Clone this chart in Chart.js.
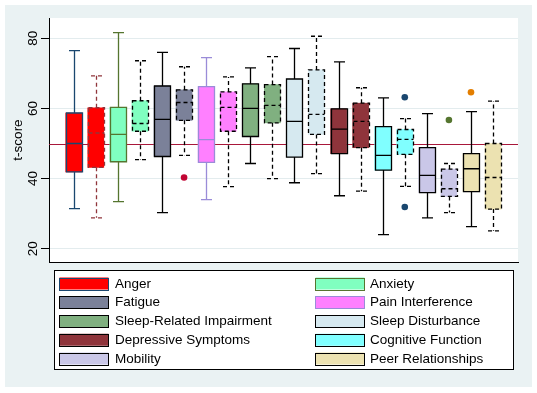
<!DOCTYPE html>
<html>
<head>
<meta charset="utf-8">
<script src="https://cdn.jsdelivr.net/npm/chart.js@4.4.1/dist/chart.umd.min.js"></script>
<style>
  html, body { margin: 0; padding: 0; background: #fff; }
  canvas { display: block; }
</style>
</head>
<body>
<canvas id="chart" width="537" height="393"></canvas>
<script>
// measures (each one has a solid box and a dashed box)
const measures = ['Anger', 'Anxiety', 'Fatigue', 'Pain Interference', 'Sleep-Related Impairment',
  'Sleep Disturbance', 'Depressive Symptoms', 'Cognitive Function', 'Mobility', 'Peer Relationships'];

// box statistics, 20 boxes: solid, dashed, solid, dashed ...
const whiskerHigh = [76.5, 69.3, 81.6, 73.6, 76.0, 71.9, 74.5, 69.0, 71.6, 74.8, 77.1, 80.6, 73.3, 65.9, 63.0, 57.1, 58.5, 44.3, 59.1, 62.1];
const upperQ     = [58.7, 60.2, 60.3, 62.2, 66.4, 65.3, 66.2, 64.7, 67.0, 66.8, 68.4, 71.0, 59.9, 61.5, 54.8, 54.0, 48.8, 42.7, 47.1, 50.0];
const medians    = [50.0, 53.0, 52.6, 55.7, 56.9, 61.7, 51.1, 60.3, 60.0, 60.9, 56.3, 58.3, 54.1, 56.3, 46.6, 51.2, 40.9, 37.1, 42.8, 40.3];
const lowerQ     = [41.9, 43.2, 44.8, 53.5, 46.3, 56.6, 44.6, 53.5, 52.0, 55.9, 46.1, 52.6, 47.1, 48.8, 42.4, 46.9, 36.0, 34.9, 36.3, 31.3];
const whiskerLow = [31.4, 28.8, 33.4, 45.4, 30.3, 46.6, 34.0, 37.7, 44.3, 40.0, 38.8, 41.4, 35.1, 36.4, 24.0, 37.8, 28.8, 30.3, 26.3, 25.1];

// outside values
const outlierBox   = [5, 15, 15, 17, 18];
const outlierValue = [40.3, 63.2, 31.9, 56.7, 64.6];

const yTicks = [20, 40, 60, 80];
const refValue = 50;

// styles
const fillColors = ['#ff0000', '#80ffc0', '#7b8199', '#ff80ff', '#80b080',
  '#d6e9f0', '#8f343b', '#80ffff', '#cac7e8', '#ece2b1'];
const lineColors = ['#1a476f', '#90353b', '#55752f', '#000', '#000', '#000', '#9a8cd8', '#000', '#000', '#000',
  '#000', '#000', '#000', '#000', '#000', '#000', '#000', '#000', '#000', '#000'];
const outlierColors = ['#c10534', '#1a476f', '#1a476f', '#55752f', '#e37e00'];
const FONT = '13.5px "Liberation Sans", Arial, sans-serif';

const boxIdx = whiskerHigh.map((v, i) => i);

const boxPlot = {
  id: 'boxPlot',
  beforeDraw(chart) {
    const { ctx, chartArea: a } = chart;
    ctx.save();
    ctx.fillStyle = '#fff';
    ctx.fillRect(0, 0, chart.width, chart.height);
    ctx.fillStyle = '#eaf2f3';
    ctx.fillRect(5, 5, 527, 382);
    ctx.fillStyle = '#fff';
    ctx.fillRect(a.left, a.top, a.right - a.left, a.bottom - a.top);
    ctx.restore();
  },
  beforeDatasetsDraw(chart) {
    const { ctx, chartArea: a, scales: { y } } = chart;
    const py = Math.round(y.getPixelForValue(refValue)) + 0.5;
    ctx.save();
    ctx.strokeStyle = '#a8173a';
    ctx.lineWidth = 1.2;
    ctx.beginPath();
    ctx.moveTo(a.left, py);
    ctx.lineTo(a.right, py);
    ctx.stroke();
    ctx.restore();
  },
  afterDatasetsDraw(chart) {
    const { ctx, scales: { x, y } } = chart;
    ctx.save();
    ctx.lineWidth = 1.3;
    boxIdx.forEach(i => {
      const cx = Math.round(x.getPixelForValue(i)) + 0.5;
      const hi = y.getPixelForValue(whiskerHigh[i]);
      const q3 = y.getPixelForValue(upperQ[i]);
      const md = y.getPixelForValue(medians[i]);
      const q1 = y.getPixelForValue(lowerQ[i]);
      const lo = y.getPixelForValue(whiskerLow[i]);
      ctx.strokeStyle = lineColors[i];
      ctx.setLineDash(i % 2 ? [4, 3] : []);
      ctx.beginPath();
      // whiskers + caps
      ctx.moveTo(cx, q3); ctx.lineTo(cx, hi);
      ctx.moveTo(cx - 5.5, hi); ctx.lineTo(cx + 5.5, hi);
      ctx.moveTo(cx, q1); ctx.lineTo(cx, lo);
      ctx.moveTo(cx - 5.5, lo); ctx.lineTo(cx + 5.5, lo);
      // box
      ctx.rect(cx - 8, q3, 16, q1 - q3);
      // median
      ctx.moveTo(cx - 8, md); ctx.lineTo(cx + 8, md);
      ctx.stroke();
    });
    ctx.restore();
  },
  afterDraw(chart) {
    const { ctx, scales: { y } } = chart;
    ctx.save();
    ctx.fillStyle = '#000';
    ctx.font = FONT;
    ctx.textAlign = 'center';
    ctx.textBaseline = 'middle';
    yTicks.forEach(t => {
      ctx.save();
      ctx.translate(33, y.getPixelForValue(t));
      ctx.rotate(-Math.PI / 2);
      ctx.fillText(String(t), 0, 0);
      ctx.restore();
    });

    // legend
    ctx.fillStyle = '#fff';
    ctx.fillRect(54, 270, 459, 99);
    ctx.strokeStyle = '#000';
    ctx.lineWidth = 1;
    ctx.strokeRect(54.5, 270.5, 459, 99);
    ctx.textAlign = 'left';
    measures.forEach((m, k) => {
      const col = k % 2, row = Math.floor(k / 2);
      const sx = col ? 315.5 : 59.5;
      const tx = col ? 370 : 115;
      const cy = 283.5 + row * 18.75;
      ctx.fillStyle = fillColors[k];
      ctx.fillRect(sx, cy - 6, 49, 12);
      ctx.strokeStyle = lineColors[k * 2];
      ctx.strokeRect(sx, Math.round(cy - 6) + 0.5, 49, 12);
      ctx.fillStyle = '#000';
      ctx.fillText(m, tx, cy + 0.5);
    });
    ctx.restore();
  }
};

new Chart(document.getElementById('chart'), {
  type: 'bar',
  data: {
    datasets: [{
      label: 'boxes',
      data: boxIdx.map(i => ({ x: i, y: [lowerQ[i], upperQ[i]] })),
      backgroundColor: boxIdx.map(i => fillColors[Math.floor(i / 2)]),
      borderWidth: 0,
      barThickness: 16
    }, {
      type: 'scatter',
      label: 'outside values',
      data: outlierBox.map((b, k) => ({ x: b, y: outlierValue[k] })),
      pointRadius: 3.3,
      pointBackgroundColor: outlierColors,
      pointBorderColor: outlierColors,
      pointBorderWidth: 0
    }]
  },
  options: {
    responsive: false,
    animation: false,
    layout: { padding: { left: 5, right: 19, top: 18, bottom: 131 } },
    plugins: { legend: { display: false }, tooltip: { enabled: false } },
    scales: {
      x: {
        type: 'linear',
        min: -1.12,
        max: 20.13,
        offset: false,
        grid: { display: false, drawTicks: false, offset: false },
        ticks: { display: false },
        border: { display: true, color: '#000', width: 1 },
        afterFit: s => { s.height = 0; }
      },
      y: {
        min: 16.2,
        max: 85.8,
        afterBuildTicks: s => { s.ticks = yTicks.map(v => ({ value: v })); },
        ticks: { display: false },
        grid: { color: '#e3ecee', tickColor: '#000', tickLength: 8, lineWidth: 1 },
        border: { display: true, color: '#000', width: 1 },
        title: { display: true, text: 't-score', color: '#000', font: { family: '"Liberation Sans", Arial, sans-serif', size: 13.5 }, padding: { top: 5, bottom: 0 } },
        afterFit: s => { s.width = 44; }
      }
    }
  },
  plugins: [boxPlot]
});
</script>
</body>
</html>
